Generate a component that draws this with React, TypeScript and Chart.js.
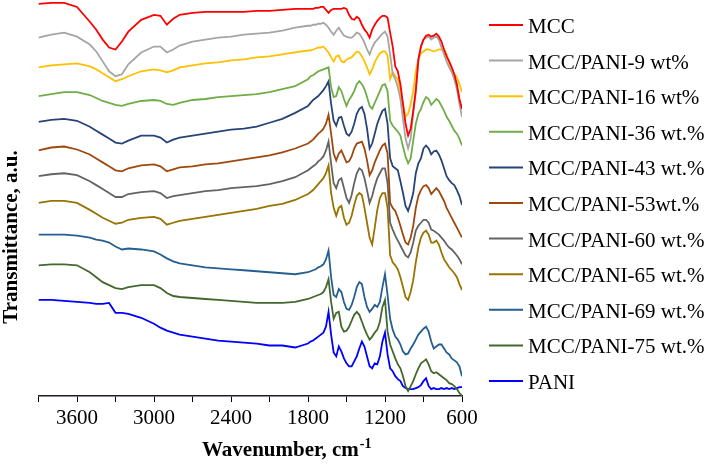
import { useEffect, useRef } from 'react';
import { Chart, registerables } from 'chart.js';

Chart.register(...registerables);

// Wavenumber grid (cm-1)
const wavenumbers = [
  3900, 3800, 3700, 3600, 3500, 3450, 3400, 3350, 3300, 3250, 3200, 3100, 3000, 2950, 2900, 2850, 2800,
  2700, 2600, 2500, 2400, 2300, 2200, 2100, 2000, 1900, 1800,
  1780, 1760, 1740, 1720, 1700, 1680, 1660, 1640, 1620, 1600, 1580, 1560, 1540, 1520, 1500, 1480, 1460,
  1440, 1420, 1400, 1380, 1360, 1340, 1320, 1300, 1280, 1260, 1240, 1220, 1200, 1180, 1160, 1140, 1120,
  1100, 1080, 1060, 1040, 1020, 1000, 980, 960, 940, 920, 900, 880, 860, 840, 820, 800, 780, 760, 740,
  720, 700, 680, 660, 640, 620, 600,
];

const seriesNames = [
  'MCC',
  'MCC/PANI-9 wt%',
  'MCC/PANI-16 wt%',
  'MCC/PANI-36 wt.%',
  'MCC/PANI-43 wt.%',
  'MCC/PANI-53wt.%',
  'MCC/PANI-60 wt.%',
  'MCC/PANI-65 wt.%',
  'MCC/PANI-69 wt.%',
  'MCC/PANI-75 wt.%',
  'PANI',
];

// Offset transmittance (a.u., stacked; larger = lower on the plot)
const mcc = [
  4, 3, 3, 7, 22, 30, 40, 48, 50, 42, 32, 20, 15, 16, 25, 19, 15, 13, 12, 12, 12, 12, 11, 11, 10, 9, 9,
  9, 9, 8, 8, 7, 7, 10, 13, 10, 9, 9, 9, 9, 8, 9, 15, 19, 20, 17, 19, 25, 30, 33, 38, 30, 25, 21, 18, 16,
  16, 18, 33, 47, 67, 72, 85, 105, 125, 137, 130, 112, 92, 60, 47, 40, 36, 35, 37, 36, 34, 37, 42, 50, 57,
  62, 68, 75, 85, 100, 110,
];
const pani9 = [
  38, 35, 33, 37, 45, 52, 62, 72, 77, 75, 65, 53, 47, 47, 53, 50, 46, 42, 40, 38, 37, 35, 34, 33, 31, 28, 26,
  26, 25, 25, 24, 24, 23, 25, 28, 32, 35, 31, 28, 32, 36, 37, 38, 38, 36, 33, 34, 38, 43, 50, 55, 48, 43, 40,
  37, 34, 32, 37, 55, 75, 80, 88, 100, 120, 140, 150, 140, 115, 90, 62, 47, 40, 38, 37, 40, 38, 37, 40, 48,
  55, 62, 68, 73, 80, 90, 105, 118,
];
const pani16 = [
  68, 66, 65, 64, 67, 70, 74, 78, 82, 80, 77, 72, 70, 71, 73, 71, 68, 66, 64, 63, 61, 60, 58, 57, 55, 53, 51,
  51, 50, 49, 48, 48, 47, 50, 53, 58, 62, 57, 56, 62, 63, 60, 59, 58, 55, 52, 53, 57, 62, 68, 75, 70, 63, 58,
  54, 52, 52, 56, 80, 73, 77, 80, 92, 105, 118, 115, 105, 92, 72, 60, 54, 52, 50, 50, 51, 52, 51, 50, 50, 50,
  55, 64, 70, 75, 78, 85, 93,
];
const pani36 = [
  97, 95, 93, 93, 96, 99, 102, 104, 106, 107, 105, 102, 101, 102, 105, 106, 104, 101, 100, 98, 97, 96, 95, 93,
  90, 87, 80, 77, 76, 74, 72, 71, 70, 69, 68, 88, 98, 97, 88, 92, 100, 107, 101, 97, 92, 85, 82, 85, 90, 98,
  107, 110, 104, 98, 92, 86, 85, 92, 122, 127, 130, 133, 137, 148, 158, 165, 160, 142, 125, 115, 110, 103, 98,
  100, 106, 103, 100, 102, 107, 112, 118, 122, 127, 132, 135, 140, 147,
];
const pani43 = [
  123, 121, 120, 122, 128, 132, 136, 140, 144, 145, 142, 137, 137, 139, 144, 141, 139, 137, 135, 133, 131, 130,
  128, 124, 120, 114, 107, 104, 101, 99, 97, 94, 91, 87, 82, 105, 122, 127, 119, 118, 127, 135, 137, 133, 125,
  115, 110, 108, 115, 130, 150, 145, 135, 125, 118, 112, 110, 125, 160, 168, 170, 172, 183, 195, 208, 213, 205,
  195, 175, 165, 160, 150, 147, 150, 156, 153, 152, 156, 162, 170, 178, 182, 185, 187, 192, 198, 207,
];
const pani53 = [
  152, 149, 148, 151, 156, 160, 164, 168, 172, 173, 170, 167, 166, 168, 173, 171, 169, 168, 166, 165, 163, 161,
  159, 157, 154, 150, 145, 143, 141, 138, 135, 133, 130, 125, 116, 135, 155, 162, 155, 152, 158, 164, 163, 158,
  150, 145, 144, 143, 150, 162, 177, 172, 164, 158, 152, 147, 145, 155, 205, 210, 213, 220, 228, 237, 245, 247,
  240, 228, 210, 198, 192, 188, 187, 190, 196, 193, 190, 193, 198, 203, 210, 215, 220, 225, 230, 235, 240,
];
const pani60 = [
  178, 176, 175, 177, 183, 187, 191, 195, 199, 199, 196, 194, 193, 195, 200, 198, 197, 195, 193, 192, 190, 189,
  188, 186, 183, 179, 172, 170, 168, 166, 163, 161, 158, 152, 143, 165, 185, 190, 182, 180, 190, 200, 205, 197,
  185, 175, 170, 172, 180, 192, 205, 198, 188, 180, 175, 170, 170, 185, 225, 232, 238, 243, 248, 253, 258, 260,
  255, 245, 233, 228, 225, 222, 222, 225, 232, 233, 235, 237, 240, 243, 247, 250, 252, 255, 258, 262, 267,
];
const pani65 = [
  205, 203, 203, 205, 212, 216, 220, 223, 226, 225, 222, 220, 219, 221, 227, 225, 223, 221, 219, 217, 215, 213,
  211, 208, 206, 202, 196, 194, 192, 189, 186, 183, 180, 175, 167, 195, 210, 218, 210, 208, 220, 227, 225, 218,
  207, 198, 195, 197, 210, 225, 240, 247, 230, 212, 200, 195, 195, 210, 258, 265, 268, 272, 280, 290, 300, 303,
  295, 283, 265, 250, 240, 235, 233, 237, 245, 245, 243, 247, 255, 262, 266, 270, 273, 276, 280, 287, 293,
];
const pani69 = [
  237, 237, 237, 238, 240, 242, 243, 245, 249, 252, 251, 252, 254, 257, 261, 264, 266, 268, 270, 271, 272, 273,
  274, 275, 276, 277, 275, 274, 273, 272, 270, 269, 267, 262, 253, 280, 298, 300, 292, 295, 305, 312, 313, 308,
  300, 290, 285, 287, 300, 310, 315, 312, 308, 310, 305, 290, 277, 298, 322, 333, 340, 343, 348, 355, 358, 357,
  352, 348, 343, 338, 335, 332, 330, 335, 345, 352, 350, 348, 348, 352, 356, 358, 362, 364, 366, 370, 380,
];
const pani75 = [
  268, 267, 267, 268, 275, 280, 285, 288, 291, 292, 290, 288, 288, 291, 296, 299, 300, 301, 302, 303, 304, 305,
  306, 306, 306, 305, 302, 301, 300, 299, 298, 297, 295, 290, 282, 305, 322, 316, 315, 330, 335, 334, 330, 324,
  318, 315, 318, 325, 332, 338, 343, 340, 336, 333, 325, 310, 303, 335, 348, 355, 362, 368, 372, 380, 390, 395,
  390, 385, 378, 372, 367, 365, 363, 368, 375, 377, 376, 378, 380, 382, 384, 387, 388, 390, 393, 397, 400,
];
const pani = [
  303, 303, 304, 305, 306, 307, 307, 306, 316, 316, 317, 321, 327, 331, 334, 336, 338, 340, 342, 344, 345, 346,
  347, 349, 349, 351, 347, 345, 344, 342, 340, 338, 336, 330, 315, 338, 356, 360, 350, 355, 362, 367, 370, 370,
  365, 360, 352, 345, 350, 360, 370, 372, 367, 368, 360, 345, 336, 358, 372, 375, 380, 383, 385, 390, 392, 393,
  393, 393, 392, 391, 389, 385, 382, 390, 393, 392, 393, 393, 392, 393, 392, 393, 392, 393, 392, 391, 391,
];

const seriesColors = [
  '#FF0000', '#A5A5A5', '#FFC000', '#70AD47', '#264478', '#9E480E',
  '#636363', '#997300', '#255E91', '#43682B', '#0000FF',
];

const yTitle = 'Transmittance, a.u.';
const xTitle = 'Wavenumber, cm';
const xTitleSup = '-1';

export default function App() {
  const ref = useRef<HTMLCanvasElement>(null);

  useEffect(() => {
    document.body.style.margin = '0';
    const canvas = ref.current;
    if (!canvas) return;
    const allSeries = [mcc, pani9, pani16, pani36, pani43, pani53, pani60, pani65, pani69, pani75, pani];

    const overlay = {
      id: 'overlay',
      afterDraw(chart: any) {
        const c = chart.ctx as CanvasRenderingContext2D;
        c.save();
        // Legend
        c.font = '21px "Liberation Serif"';
        c.textAlign = 'left';
        c.textBaseline = 'alphabetic';
        seriesNames.forEach((name, i) => {
          const y = 25 + i * 35.6;
          c.strokeStyle = seriesColors[i];
          c.lineWidth = 2;
          c.beginPath();
          c.moveTo(489, y);
          c.lineTo(523, y);
          c.stroke();
          c.fillStyle = '#000';
          c.fillText(name, 528, y + 8);
        });
        // Y title
        c.save();
        c.font = 'bold 21px "Liberation Serif"';
        c.fillStyle = '#000';
        c.translate(17, 237);
        c.rotate(-Math.PI / 2);
        c.textAlign = 'center';
        c.fillText(yTitle, 0, 0);
        c.restore();
        // X title
        c.font = 'bold 21px "Liberation Serif"';
        c.fillStyle = '#000';
        c.textAlign = 'left';
        c.fillText(xTitle, 202, 456);
        const w = c.measureText(xTitle).width;
        c.font = 'bold 14px "Liberation Serif"';
        c.fillText(xTitleSup, 202 + w + 1, 448);
        c.restore();
      },
    };

    const chart = new Chart(canvas, {
      type: 'line',
      data: {
        datasets: allSeries.map((s, i) => ({
          label: seriesNames[i],
          data: wavenumbers.map((w, j) => ({ x: w, y: s[j] })),
          borderColor: seriesColors[i],
          backgroundColor: seriesColors[i],
          borderWidth: 1.8,
          pointRadius: 0,
          tension: 0,
          fill: false,
        })),
      },
      options: {
        responsive: false,
        animation: false,
        layout: { padding: { left: 38.5, right: 247, top: 0, bottom: 30.8 } },
        plugins: { legend: { display: false }, tooltip: { enabled: false } },
        scales: {
          x: {
            type: 'linear',
            reverse: true,
            min: 600,
            max: 3900,
            ticks: {
              stepSize: 300,
              autoSkip: false,
              maxRotation: 0,
              padding: 4,
              color: '#000',
              font: { family: 'Liberation Serif', size: 21 },
              callback: (v: any) => (Number(v) % 600 === 0 ? String(v) : ''),
            },
            grid: { display: true, drawOnChartArea: false, drawTicks: true, tickLength: 6, color: '#000', lineWidth: 1 },
            border: { display: true, color: '#1c1c30', width: 1.5 },
          },
          y: { display: false, reverse: true, min: 0, max: 400 },
        },
      },
      plugins: [overlay],
    } as any);
    return () => chart.destroy();
  }, []);

  return (
    <div style={{ width: 709, height: 466 }}>
      <canvas ref={ref} width={709} height={466} style={{ display: 'block' }} />
    </div>
  );
}
